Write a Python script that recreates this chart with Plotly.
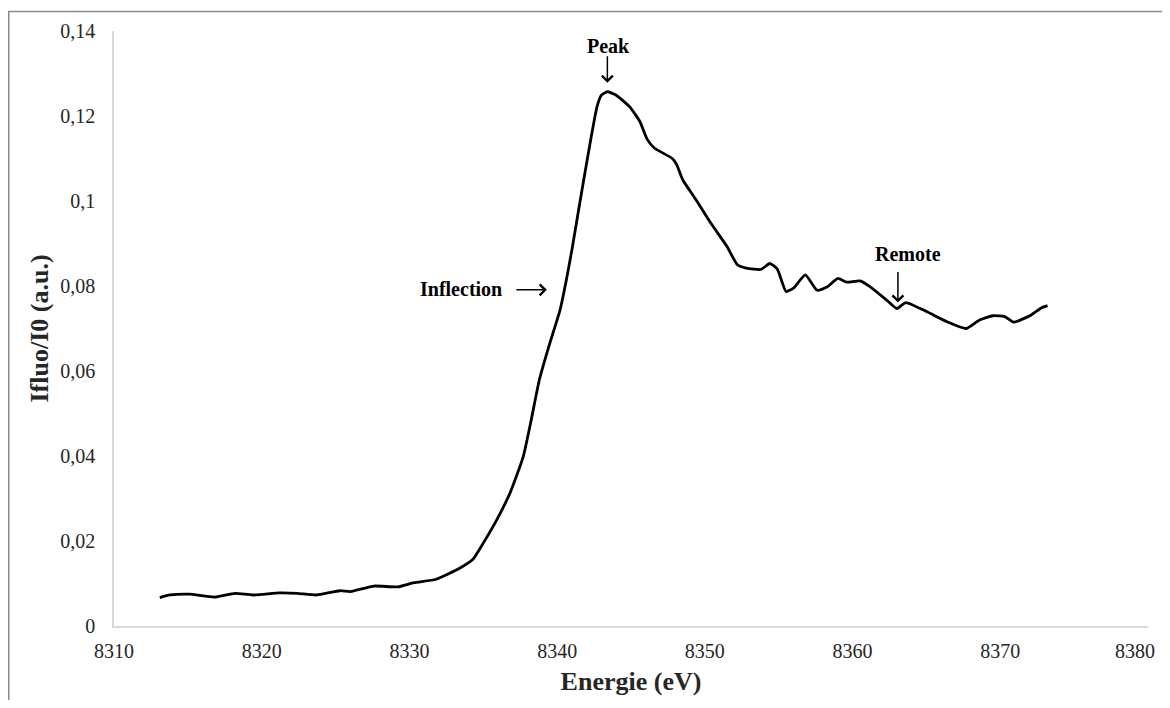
import plotly.graph_objects as go

# ---- data ----
energy = [8313.1, 8313.8, 8315.1, 8316.8, 8318.2, 8319.4, 8321.2, 8322.4, 8323.7,
          8325.3, 8326.0, 8327.6, 8329.2, 8330.3, 8331.8, 8333.4, 8334.3, 8335.0,
          8335.9, 8336.8, 8337.7, 8338.2, 8338.8, 8339.5, 8340.2, 8340.6, 8341.0,
          8341.8, 8342.7, 8343.0, 8343.4, 8344.0, 8344.9, 8345.6, 8346.1, 8346.6,
          8347.8, 8348.1, 8348.5, 8349.4, 8350.4, 8351.5, 8352.2, 8352.8, 8353.8,
          8354.4, 8354.9, 8355.5, 8356.0, 8356.8, 8357.6, 8358.3, 8359.0, 8359.6,
          8360.5, 8361.2, 8362.3, 8363.0, 8363.6, 8365.0, 8366.4, 8367.7, 8368.6,
          8369.5, 8370.3, 8370.9, 8372.1, 8372.8, 8373.2]
intensity = [0.0067, 0.0073, 0.0075, 0.0068, 0.0077, 0.0073, 0.0078, 0.0077, 0.0073,
             0.0083, 0.0081, 0.0094, 0.0092, 0.0102, 0.0110, 0.0136, 0.0157, 0.0195,
             0.0249, 0.0312, 0.0398, 0.0477, 0.0580, 0.0665, 0.0744, 0.0810, 0.0885,
             0.1050, 0.1222, 0.1249, 0.1257, 0.1249, 0.1222, 0.1187, 0.1145, 0.1124,
             0.1100, 0.1085, 0.1050, 0.1003, 0.0948, 0.0893, 0.0850, 0.0842, 0.0839,
             0.0853, 0.0840, 0.0787, 0.0795, 0.0826, 0.0790, 0.0798, 0.0818, 0.0809,
             0.0812, 0.0798, 0.0767, 0.0747, 0.0761, 0.0740, 0.0716, 0.0700, 0.0720,
             0.0730, 0.0728, 0.0715, 0.0732, 0.0749, 0.0754]

labels = ["Peak", "Inflection", "Remote"]
label_x = [8343.4, 8339.3, 8363.07]
label_y = [0.1278, 0.0791, 0.0761]

x_ticks = [8310, 8320, 8330, 8340, 8350, 8360, 8370, 8380]
x_ticktext = ["8310", "8320", "8330", "8340", "8350", "8360", "8370", "8380"]
y_ticks = [0, 0.02, 0.04, 0.06, 0.08, 0.1, 0.12, 0.14]

FONT = "Liberation Serif, Times New Roman, serif"
# the page body adds an 8px margin, so figure pixels = page pixels - 8;
# the figure is sized so the page does not scroll.
OFF = 8
W, H = 1170 - OFF, 708 - 2 * OFF
ML, MT = 114 - OFF, 31 - OFF
PW, PH = 1034, 595
MR, MB = W - ML - PW, H - MT - PH

def px_x(p):
    return (p - ML) / PW

def px_y(p):
    return (MT + PH - p) / PH

fig = go.Figure()
fig.add_trace(go.Scatter(
    x=energy, y=intensity, mode="lines",
    line=dict(color="black", width=2.8, shape="spline", smoothing=0.5),
    showlegend=False, hoverinfo="skip"))

afont = dict(family=FONT, size=20, color="black")
tfont = dict(family=FONT, size=20, color="#262626")
arrow = dict(showarrow=True, arrowhead=4, arrowsize=1.4, arrowwidth=1.5,
             arrowcolor="black", text="", xref="x", yref="y")

annotations = [
    # Peak
    dict(x=label_x[0], y=label_y[0], ax=0, ay=-28, **arrow),
    dict(x=label_x[0], y=label_y[0], xref="x", yref="y", text="<b>" + labels[0] + "</b>",
         showarrow=False, xshift=1, yshift=37, font=afont),
    # Inflection
    dict(x=label_x[1], y=label_y[1], ax=-32, ay=0, **arrow),
    dict(x=label_x[1], y=label_y[1], xref="x", yref="y", text="<b>" + labels[1] + "</b>",
         showarrow=False, xshift=-86, yshift=1, font=afont),
    # Remote
    dict(x=label_x[2], y=label_y[2], ax=0, ay=-32, **arrow),
    dict(x=label_x[2], y=label_y[2], xref="x", yref="y", text="<b>" + labels[2] + "</b>",
         showarrow=False, xshift=10, yshift=49, font=afont),
    # last x tick label, nudged left so it stays inside the visible window
    dict(x=x_ticks[-1], y=px_y(643), xref="x", yref="paper",
         text=x_ticktext[-1], showarrow=False, xanchor="right", xshift=9,
         yanchor="middle", font=tfont),
]

shapes = [
    dict(type="line", xref="paper", yref="paper",
         x0=px_x(0), x1=px_x(W + 5), y0=px_y(3.5), y1=px_y(3.5),
         line=dict(color="#8a8a8a", width=1.5)),
    dict(type="line", xref="paper", yref="paper",
         x0=px_x(0.75), x1=px_x(0.75), y0=px_y(3.5), y1=px_y(H + 5),
         line=dict(color="#8a8a8a", width=1.5)),
]

fig.update_layout(
    width=W, height=H,
    margin=dict(l=ML, r=MR, t=MT, b=MB, autoexpand=False),
    paper_bgcolor="white", plot_bgcolor="white",
    separators=",.",
    font=dict(family=FONT, size=20, color="#262626"),
    annotations=annotations, shapes=shapes,
    xaxis=dict(range=[8310, 8380], tickvals=x_ticks, ticktext=x_ticktext[:-1] + [""],
               showgrid=False, zeroline=False,
               showline=True, linecolor="#d9d9d9", linewidth=1.5, ticks="",
               ticklabelstandoff=6, automargin=False,
               tickfont=tfont,
               title=dict(text="<b>Energie (eV)</b>", standoff=11,
                          font=dict(family=FONT, size=26, color="#262626"))),
    yaxis=dict(range=[0, 0.14], tickvals=y_ticks, showgrid=False, zeroline=False,
               showline=True, linecolor="#d9d9d9", linewidth=1.5, ticks="",
               ticklabelstandoff=13, automargin=False,
               tickfont=tfont,
               title=dict(text="<b>Ifluo/I0 (a.u.)</b>", standoff=4,
                          font=dict(family=FONT, size=26, color="#262626"))),
)

fig.write_html("out.html")
